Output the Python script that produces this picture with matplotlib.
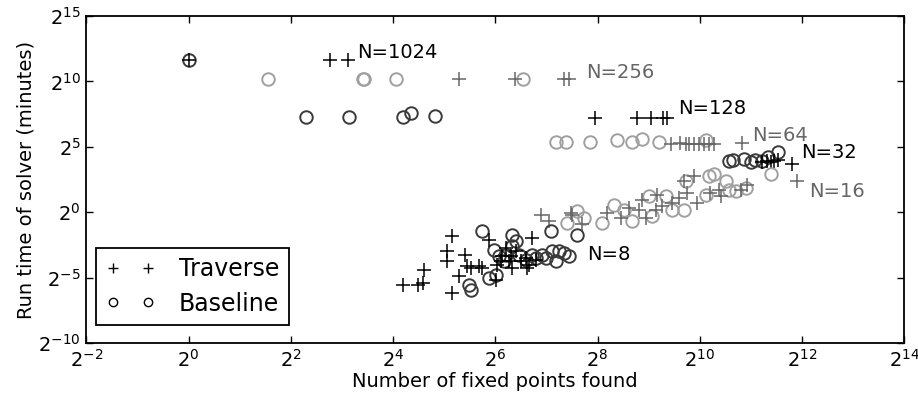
import numpy as np
import matplotlib
matplotlib.use("Agg")
import matplotlib.pyplot as plt
from matplotlib.ticker import FixedLocator, LogFormatterMathtext

# values are log2 exponents
# N=1024
trav_x_1024 = [0.0, 2.76, 3.11]
trav_y_1024 = [11.67, 11.67, 11.67]
base_x_1024 = [0.0]
base_y_1024 = [11.67]

# N=256
trav_x_256 = [5.3, 6.39, 7.35, 7.44]
trav_y_256 = [10.15, 10.15, 10.15, 10.15]
base_x_256 = [1.55, 3.42, 3.43, 4.05, 6.55]
base_y_256 = [10.15, 10.15, 10.2, 10.15, 10.15]

# N=128
trav_x_128 = [7.95, 8.77, 9.04, 9.28, 9.36]
trav_y_128 = [7.2, 7.2, 7.2, 7.2, 7.2]
base_x_128 = [2.29, 3.13, 4.19, 4.36, 4.83]
base_y_128 = [7.27, 7.27, 7.27, 7.58, 7.35]

# N=64
trav_x_64 = [9.43, 9.61, 9.73, 9.79, 9.88, 9.98, 10.08, 10.18, 10.27, 10.82]
trav_y_64 = [5.2, 5.3, 5.2, 5.2, 5.2, 5.2, 5.2, 5.2, 5.2, 5.3]
base_x_64 = [7.19, 7.39, 7.85, 8.38, 8.67, 8.87, 9.2, 10.12]
base_y_64 = [5.4, 5.4, 5.4, 5.5, 5.4, 5.6, 5.4, 5.5]

# N=32
trav_x_32 = [11.21, 11.31, 11.39, 11.46, 11.54, 11.8]
trav_y_32 = [3.8, 3.9, 3.8, 3.9, 4.0, 3.7]
base_x_32 = [10.57, 10.66, 10.86, 11.0, 11.09, 11.21, 11.34, 11.54]
base_y_32 = [3.9, 4.0, 4.1, 3.8, 4.0, 3.9, 4.2, 4.6]

# N=16
trav_x_16 = [6.90, 7.05, 7.48, 7.50, 7.70, 8.19, 8.46, 8.61, 8.81, 8.87, 8.95, 9.16, 9.14,
             9.26, 9.45, 9.59, 9.69, 9.88, 9.75, 9.94, 10.21, 10.37, 10.41, 10.80, 10.92, 11.91]
trav_y_16 = [-0.23, -0.68, -0.08, -0.23, -0.91, -0.08, -0.45, 0.3, 0.15, 0.91, -0.45, 1.29, 0.15,
             0.45, 0.68, 1.06, 2.35, 2.8, 1.44, 0.68, 1.44, 1.67, 1.21, 1.67, 2.05, 2.42]
base_x_16 = [7.40, 7.60, 7.74, 8.09, 8.32, 8.52, 8.67, 9.0, 9.06, 9.34, 9.45, 9.73, 9.69,
             10.18, 10.27, 10.51, 10.12, 10.57, 10.70, 10.90, 11.40]
base_y_16 = [-0.83, 0.08, -0.45, -0.83, 0.53, 0.15, -0.68, 1.21, -0.3, 1.21, 0.15, 2.42, 0.15,
             2.8, 2.95, 2.35, 1.29, 1.67, 1.59, 1.82, 2.95]

# N=8
trav_x_8 = [4.19, 4.48, 4.58, 4.61, 5.16, 5.16, 5.06, 5.06, 5.40, 5.30, 5.45, 5.53, 5.69, 5.75, 5.88,
            6.02, 6.04, 6.14, 6.21, 6.27, 6.33, 6.41, 6.51, 6.60, 6.66, 6.72, 6.80, 6.62, 6.12, 6.31]
trav_y_8 = [-5.53, -5.53, -5.38, -4.39, -6.14, -1.82, -2.95, -3.71, -3.26, -4.85, -4.09, -4.24, -4.09,
            -4.24, -2.12, -5.15, -4.02, -3.33, -2.73, -3.71, -4.24, -2.95, -3.71, -3.48, -4.02, -1.97,
            -3.64, -4.24, -3.71, -3.33]
base_x_8 = [5.75, 5.49, 5.53, 5.88, 5.98, 6.08, 6.18, 6.33, 6.41, 6.47, 6.80, 6.92, 7.09, 7.11, 7.25,
            7.35, 7.44, 7.19, 7.0, 7.60, 6.72, 6.60, 6.21, 6.02, 6.33]
base_y_8 = [-1.44, -5.53, -5.91, -5.0, -2.88, -3.33, -3.71, -1.74, -2.2, -3.26, -3.48, -3.26, -1.44,
            -2.95, -2.95, -3.11, -3.33, -3.71, -3.48, -1.74, -3.26, -3.64, -3.26, -4.77, -2.58]

labels = ["N=1024", "N=256", "N=128", "N=64", "N=32", "N=16", "N=8"]
label_x = [3.29, 7.78, 9.57, 11.03, 11.99, 12.13, 7.8]
label_y = [12.2, 10.7, 7.9, 5.83, 4.55, 1.6, -3.2]

groups = [
    (trav_x_1024, trav_y_1024, base_x_1024, base_y_1024),
    (trav_x_256, trav_y_256, base_x_256, base_y_256),
    (trav_x_128, trav_y_128, base_x_128, base_y_128),
    (trav_x_64, trav_y_64, base_x_64, base_y_64),
    (trav_x_32, trav_y_32, base_x_32, base_y_32),
    (trav_x_16, trav_y_16, base_x_16, base_y_16),
    (trav_x_8, trav_y_8, base_x_8, base_y_8),
]

dark = ("k", "#3a3a3a", "k")
light = ("#666666", "#a0a0a0", "#666666")

fig = plt.figure(figsize=(9.18, 3.95), dpi=100)
ax = fig.add_axes([0.094, 0.1316, 0.891, 0.828])
ax.set_xscale("log", base=2)
ax.set_yscale("log", base=2)

for i, (tx, ty, bx, by) in enumerate(groups):
    pc, oc, tc = dark if i % 2 == 0 else light
    ax.plot(2.0 ** np.array(bx), 2.0 ** np.array(by), "o", ms=9, mfc="none",
            mec=oc, mew=1.4, ls="none")
    ax.plot(2.0 ** np.array(tx), 2.0 ** np.array(ty), "+", ms=10, color=pc,
            mew=1.1, ls="none")
    ax.text(2.0 ** label_x[i], 2.0 ** label_y[i], labels[i], color=tc,
            fontsize=14, ha="left", va="center")

ax.set_xlim(2.0 ** -2, 2.0 ** 14)
ax.set_ylim(2.0 ** -10, 2.0 ** 15)
ax.xaxis.set_major_locator(FixedLocator(2.0 ** np.arange(-2, 15, 2)))
ax.yaxis.set_major_locator(FixedLocator(2.0 ** np.arange(-10, 16, 5)))
ax.xaxis.set_minor_locator(FixedLocator([]))
ax.yaxis.set_minor_locator(FixedLocator([]))
ax.xaxis.set_major_formatter(LogFormatterMathtext(base=2))
ax.yaxis.set_major_formatter(LogFormatterMathtext(base=2))
ax.tick_params(direction="in", top=True, right=True, length=5, width=1,
               labelsize=14, pad=4)
for s in ax.spines.values():
    s.set_linewidth(1.3)

ax.set_xlabel("Number of fixed points found", fontsize=14, labelpad=1)
ax.set_ylabel("Run time of solver (minutes)", fontsize=14, labelpad=2)

h1, = ax.plot([], [], "k+", ms=7, mew=1.0, label="Traverse")
h2, = ax.plot([], [], "o", ms=6, mfc="none", mec="k", mew=1.0, label="Baseline")
leg = ax.legend(handles=[h1, h2], loc="lower left", bbox_to_anchor=(0.012, 0.055),
                borderaxespad=0, numpoints=2, fontsize=17, fancybox=False,
                framealpha=1, edgecolor="k", handlelength=2.1, handletextpad=1.0,
                labelspacing=0.45)
leg.get_frame().set_linewidth(1.3)

fig.savefig("out.png", dpi=100)
